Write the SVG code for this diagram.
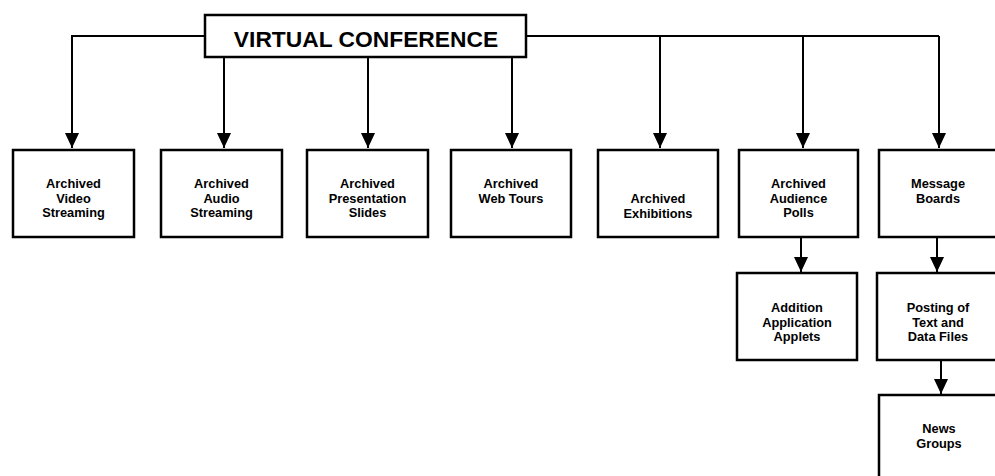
<svg xmlns="http://www.w3.org/2000/svg" width="995" height="476" viewBox="0 0 995 476">
  <style>
    .box { fill: #ffffff; stroke: #000000; stroke-width: 2.5; }
    .lbl { font-family: "Liberation Sans", Arial, sans-serif; font-weight: bold; font-size: 12.8px; fill: #000000; text-anchor: middle; }
    .title { font-family: "Liberation Sans", Arial, sans-serif; font-weight: bold; font-size: 22.8px; fill: #000000; text-anchor: middle; }
    .wire { fill: none; stroke: #000000; stroke-width: 2; }
  </style>
  <defs>
    <marker id="arrow" viewBox="0 0 15 14" refX="15" refY="7" markerWidth="15" markerHeight="14" markerUnits="userSpaceOnUse" orient="auto">
      <path d="M0,0 L15,7 L0,14 Z" fill="#000000"/>
    </marker>
  </defs>

  <rect width="995" height="476" fill="#ffffff"/>

  <!-- connectors -->
  <g id="connectors">
    <path class="wire" d="M205,36 H72 V148" marker-end="url(#arrow)"/>
    <path class="wire" d="M224,57 V148" marker-end="url(#arrow)"/>
    <path class="wire" d="M368,57 V148" marker-end="url(#arrow)"/>
    <path class="wire" d="M512,57 V148" marker-end="url(#arrow)"/>
    <path class="wire" d="M526,36 H939"/>
    <path class="wire" d="M660,36 V148" marker-end="url(#arrow)"/>
    <path class="wire" d="M803,36 V148" marker-end="url(#arrow)"/>
    <path class="wire" d="M939,36 V148" marker-end="url(#arrow)"/>
    <path class="wire" d="M801,237 V272" marker-end="url(#arrow)"/>
    <path class="wire" d="M937,237 V272" marker-end="url(#arrow)"/>
    <path class="wire" d="M941,360 V394" marker-end="url(#arrow)"/>
  </g>

  <!-- root -->
  <g id="virtual-conference">
    <rect class="box" x="205" y="15" width="321" height="42"/>
    <text class="title" x="366" y="47">VIRTUAL CONFERENCE</text>
  </g>

  <!-- first tier -->
  <g id="video-streaming">
    <rect class="box" x="13" y="150" width="121" height="87"/>
    <text class="lbl" x="73.5" y="188">Archived</text>
    <text class="lbl" x="73.5" y="202.5">Video</text>
    <text class="lbl" x="73.5" y="217">Streaming</text>
  </g>
  <g id="audio-streaming">
    <rect class="box" x="161" y="150" width="121" height="87"/>
    <text class="lbl" x="221.5" y="188">Archived</text>
    <text class="lbl" x="221.5" y="202.5">Audio</text>
    <text class="lbl" x="221.5" y="217">Streaming</text>
  </g>
  <g id="presentation-slides">
    <rect class="box" x="307" y="150" width="121" height="87"/>
    <text class="lbl" x="367.5" y="188">Archived</text>
    <text class="lbl" x="367.5" y="202.5">Presentation</text>
    <text class="lbl" x="367.5" y="217">Slides</text>
  </g>
  <g id="web-tours">
    <rect class="box" x="451" y="150" width="120" height="87"/>
    <text class="lbl" x="511" y="188">Archived</text>
    <text class="lbl" x="511" y="202.5">Web Tours</text>
  </g>
  <g id="exhibitions">
    <rect class="box" x="598" y="150" width="120" height="87"/>
    <text class="lbl" x="658" y="203">Archived</text>
    <text class="lbl" x="658" y="217.5">Exhibitions</text>
  </g>
  <g id="audience-polls">
    <rect class="box" x="739" y="150" width="119" height="87"/>
    <text class="lbl" x="798.5" y="188">Archived</text>
    <text class="lbl" x="798.5" y="202.5">Audience</text>
    <text class="lbl" x="798.5" y="217">Polls</text>
  </g>
  <g id="message-boards">
    <rect class="box" x="879" y="150" width="130" height="87"/>
    <text class="lbl" x="938" y="188">Message</text>
    <text class="lbl" x="938" y="202.5">Boards</text>
  </g>

  <!-- second tier -->
  <g id="application-applets">
    <rect class="box" x="737" y="273" width="120" height="87"/>
    <text class="lbl" x="797" y="312">Addition</text>
    <text class="lbl" x="797" y="326.5">Application</text>
    <text class="lbl" x="797" y="341">Applets</text>
  </g>
  <g id="text-data-files">
    <rect class="box" x="877" y="273" width="130" height="87"/>
    <text class="lbl" x="938" y="312">Posting of</text>
    <text class="lbl" x="938" y="326.5">Text and</text>
    <text class="lbl" x="938" y="341">Data Files</text>
  </g>

  <!-- third tier -->
  <g id="news-groups">
    <rect class="box" x="879" y="395" width="130" height="100"/>
    <text class="lbl" x="939" y="433">News</text>
    <text class="lbl" x="939" y="447.5">Groups</text>
  </g>
</svg>
